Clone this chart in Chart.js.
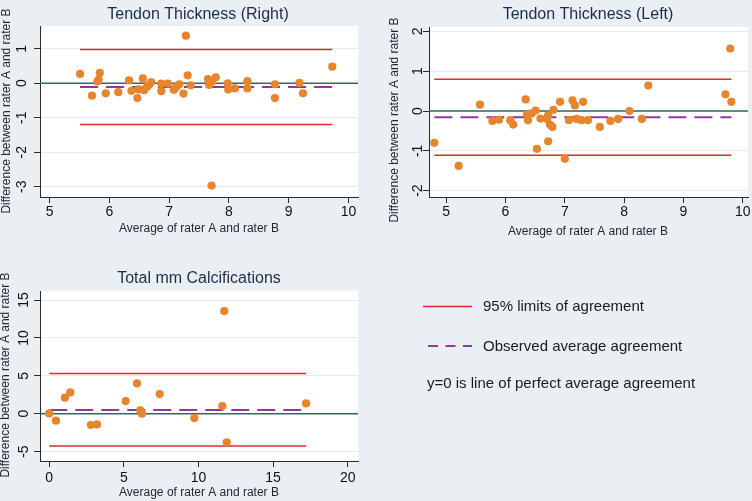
<!DOCTYPE html>
<html>
<head>
<meta charset="utf-8">
<script src="https://cdn.jsdelivr.net/npm/chart.js@4.4.1/dist/chart.umd.min.js"></script>
<style>
  body { margin: 0; width: 752px; height: 501px; background: #e9eff2; position: relative; overflow: hidden;
         font-family: "Liberation Sans", Arial, sans-serif; }
  canvas { position: absolute; }
  .legtext { position: absolute; font-size: 15px; line-height: 18px; color: #1b1b1b; white-space: nowrap; }
  svg { position: absolute; left: 0; top: 0; }
</style>
</head>
<body>
<canvas id="right" width="376" height="250" style="left:0;top:0"></canvas>
<canvas id="left" width="376" height="250" style="left:376px;top:0"></canvas>
<canvas id="calc" width="376" height="251" style="left:0;top:250px"></canvas>

<svg width="752" height="501">
  <line x1="423" y1="306.5" x2="472" y2="306.5" stroke="#e8262f" stroke-width="1.6"/>
  <line x1="428" y1="346" x2="472" y2="346" stroke="#8b3a9e" stroke-width="2" stroke-dasharray="10 7.5"/>
</svg>
<div class="legtext" style="left:483px;top:297px">95% limits of agreement</div>
<div class="legtext" style="left:483px;top:337px">Observed average agreement</div>
<div class="legtext" style="left:427px;top:374px">y=0 is line of perfect average agreement</div>

<script>
// Tendon thickness, right side
const rightAvg  = [5.51, 5.71, 5.80, 5.82, 5.84, 5.94, 6.15, 6.33, 6.37, 6.47, 6.49, 6.56, 6.58, 6.63, 6.67, 6.70,
                   6.87, 6.87, 6.98, 7.08, 7.12, 7.17, 7.24, 7.28, 7.31, 7.36, 7.65, 7.67, 7.72, 7.78, 7.71,
                   7.98, 7.99, 8.10, 8.31, 8.31, 8.77, 8.77, 9.18, 9.24, 9.73];
const rightDiff = [0.27, -0.36, 0.05, 0.10, 0.30, -0.29, -0.26, 0.08, -0.22, -0.43, -0.18, 0.14, -0.20, -0.11, -0.04, 0.03,
                   -0.01, -0.23, -0.01, -0.19, -0.11, -0.03, -0.30, 1.38, 0.23, -0.06, 0.12, -0.05, 0.05, 0.17, -2.97,
                   0.00, -0.18, -0.15, 0.06, -0.15, -0.03, -0.43, 0.01, -0.29, 0.48];
const rightLimits = [0.98, -1.20];
const rightMean = -0.11;
const rightXTicks = [5, 6, 7, 8, 9, 10];
const rightYTicks = [-3, -2, -1, 0, 1];
const rightXRange = [4.84, 10.16];
const rightYRange = [-3.30, 1.66];

// Tendon thickness, left side
const leftAvg  = [4.80, 5.21, 5.57, 5.78, 5.89, 6.08, 6.13, 6.34, 6.36, 6.38, 6.44, 6.51, 6.53, 6.59, 6.70, 6.72,
                  6.72, 6.75, 6.79, 6.81, 6.92, 7.00, 7.07, 7.13, 7.17, 7.20, 7.28, 7.31, 7.39, 7.59,
                  7.77, 7.90, 8.09, 8.30, 8.41, 9.71, 9.79, 9.81];
const leftDiff = [-0.80, -1.38, 0.16, -0.25, -0.22, -0.23, -0.34, 0.29, -0.09, -0.23, -0.06, 0.01, -0.95, -0.19, -0.20, -0.11,
                  -0.76, -0.34, -0.40, 0.03, 0.23, -1.20, -0.23, 0.27, 0.14, -0.20, -0.23, 0.23, -0.23, -0.40,
                  -0.25, -0.20, 0.00, -0.20, 0.64, 0.42, 1.57, 0.23];
const leftLimits = [0.80, -1.11];
const leftMean = -0.16;
const leftXTicks = [5, 6, 7, 8, 9, 10];
const leftYTicks = [-2, -1, 0, 1, 2];
const leftXRange = [4.71, 10.09];
const leftYRange = [-2.16, 2.11];

// Total mm calcifications
const calcAvg  = [0.00, 0.45, 1.05, 1.41, 2.79, 3.20, 5.12, 5.88, 6.10, 6.21, 7.40, 9.72, 11.60, 11.73, 11.89, 17.21];
const calcDiff = [0.04, -0.92, 2.11, 2.81, -1.49, -1.41, 1.67, 4.00, 0.44, 0.00, 2.59, -0.57, 1.01, 13.54, -3.78, 1.36];
const calcLimits = [5.32, -4.26];
const calcMean = 0.48;
const calcXTicks = [0, 5, 10, 15, 20];
const calcYTicks = [-5, 0, 5, 10, 15];
const calcXRange = [-0.62, 20.69];
const calcYRange = [-6.24, 16.19];

const FONT = '"Liberation Sans", Arial, sans-serif';
const ORANGE = '#e8842c';
const RED = '#e8262f';
const PURPLE = '#8b3a9e';
const TEAL = '#2b6c62';
const AXIS = '#2a2a2a';
const GRID = '#e4ebee';

// white plot region + all the text (titles, axis titles, tick labels)
const statText = {
  id: 'statText',
  beforeDraw(chart) {
    const a = chart.chartArea, ctx = chart.ctx;
    ctx.save();
    ctx.fillStyle = '#ffffff';
    ctx.fillRect(a.left, a.top, a.right - a.left, a.bottom - a.top);
    ctx.restore();
  },
  afterDraw(chart, args, o) {
    const { ctx } = chart;
    const x = chart.scales.x, y = chart.scales.y;
    ctx.save();
    ctx.textAlign = 'center';
    ctx.textBaseline = 'middle';
    ctx.fillStyle = '#111111';
    ctx.font = '14px ' + FONT;
    o.xTicks.forEach(v => ctx.fillText(String(v), x.getPixelForValue(v), o.xTickY));
    o.yTicks.forEach(v => {
      ctx.save();
      ctx.translate(o.yTickX, y.getPixelForValue(v));
      ctx.rotate(-Math.PI / 2);
      ctx.fillText(String(v), 0, 0);
      ctx.restore();
    });
    ctx.fillStyle = '#1c2b4a';
    ctx.font = '16px ' + FONT;
    ctx.fillText(o.title, o.titlePos[0], o.titlePos[1]);
    ctx.fillStyle = '#262636';
    ctx.font = '12px ' + FONT;
    ctx.fillText('Average of rater A and rater B', o.xTitlePos[0], o.xTitlePos[1]);
    ctx.save();
    ctx.translate(o.yTitlePos[0], o.yTitlePos[1]);
    ctx.rotate(-Math.PI / 2);
    ctx.fillText('Difference between rater A and rater B', 0, 0);
    ctx.restore();
    ctx.restore();
  }
};

function makePanel(id, p) {
  const canvas = document.getElementById(id);
  const W = canvas.width, H = canvas.height;
  const lo = Math.min(...p.avg), hi = Math.max(...p.avg);
  const seg = v => [{ x: lo, y: v }, { x: hi, y: v }];
  const line = (data, color, width, dash, order) => ({
    data, showLine: true, borderColor: color, borderWidth: width, borderDash: dash || [],
    pointRadius: 0, borderCapStyle: 'butt', order
  });

  new Chart(canvas, {
    type: 'scatter',
    data: {
      datasets: [
        { data: p.avg.map((v, i) => ({ x: v, y: p.diff[i] })), backgroundColor: ORANGE,
          borderWidth: 0, pointRadius: 4.1, order: 0 },
        line(seg(p.limits[0]), RED, 1.5, null, 1),
        line(seg(p.limits[1]), RED, 1.5, null, 2),
        line(seg(p.mean), PURPLE, 2, [18, 8], 3),
        line([{ x: p.xRange[0], y: 0 }, { x: p.xRange[1], y: 0 }], TEAL, 1.5, null, 4)
      ]
    },
    options: {
      responsive: false,
      animation: false,
      events: [],
      clip: false,
      layout: {
        autoPadding: false,
        padding: { left: p.area[0] - 6, top: p.area[1], right: W - p.area[2], bottom: H - p.area[3] - 6 }
      },
      plugins: {
        legend: { display: false },
        tooltip: { enabled: false },
        title: { display: false },
        statText: p.text
      },
      scales: {
        x: {
          type: 'linear', min: p.xRange[0], max: p.xRange[1],
          afterBuildTicks: s => { s.ticks = p.xTicks.map(v => ({ value: v })); },
          afterFit: s => { s.height = 6; },
          ticks: { display: false },
          grid: { drawOnChartArea: false, tickLength: 6, tickColor: AXIS, tickWidth: 1 },
          border: { color: AXIS, width: 1 }
        },
        y: {
          type: 'linear', min: p.yRange[0], max: p.yRange[1],
          afterBuildTicks: s => { s.ticks = p.yTicks.map(v => ({ value: v })); },
          afterFit: s => { s.width = 6; },
          ticks: { display: false },
          grid: { color: GRID, lineWidth: 1, tickLength: 6, tickColor: AXIS, tickWidth: 1 },
          border: { color: AXIS, width: 1 }
        }
      }
    },
    plugins: [statText]
  });
}

makePanel('right', {
  avg: rightAvg, diff: rightDiff, limits: rightLimits, mean: rightMean,
  xTicks: rightXTicks, yTicks: rightYTicks, xRange: rightXRange, yRange: rightYRange,
  area: [40, 26, 358, 197],
  text: { title: 'Tendon Thickness (Right)', xTicks: rightXTicks, yTicks: rightYTicks,
          xTickY: 212, yTickX: 22.5, titlePos: [198, 15], xTitlePos: [199, 229], yTitlePos: [7, 111] }
});

makePanel('left', {
  avg: leftAvg, diff: leftDiff, limits: leftLimits, mean: leftMean,
  xTicks: leftXTicks, yTicks: leftYTicks, xRange: leftXRange, yRange: leftYRange,
  area: [53, 27, 372, 197],
  text: { title: 'Tendon Thickness (Left)', xTicks: leftXTicks, yTicks: leftYTicks,
          xTickY: 212, yTickX: 42, titlePos: [212, 15], xTitlePos: [212, 231.5], yTitlePos: [19, 120] }
});

makePanel('calc', {
  avg: calcAvg, diff: calcDiff, limits: calcLimits, mean: calcMean,
  xTicks: calcXTicks, yTicks: calcYTicks, xRange: calcXRange, yRange: calcYRange,
  area: [40, 41, 358, 211],
  text: { title: 'Total mm Calcifications', xTicks: calcXTicks, yTicks: calcYTicks,
          xTickY: 228, yTickX: 24, titlePos: [199, 29], xTitlePos: [199, 243], yTitlePos: [6, 125] }
});
</script>
</body>
</html>
